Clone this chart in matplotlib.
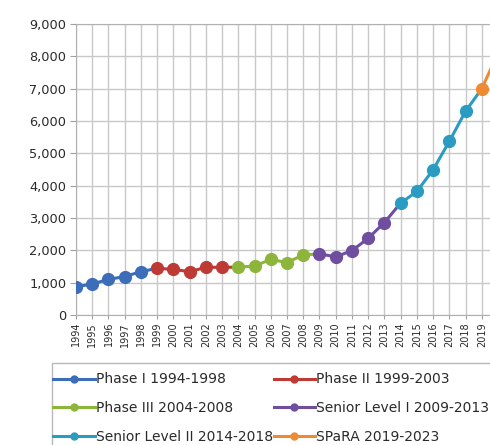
import matplotlib
matplotlib.use("Agg")
import matplotlib.pyplot as plt
from matplotlib.lines import Line2D
from matplotlib.patches import Rectangle
from matplotlib.ticker import FuncFormatter, MultipleLocator

# values
years = list(range(1994, 2021))
values = [870, 960, 1100, 1190, 1340,
          1445, 1410, 1340, 1475, 1475,
          1480, 1515, 1720, 1620, 1860,
          1890, 1800, 1990, 2370, 2860,
          3460, 3820, 4490, 5370, 6300,
          7000, 8100]

phase_names = ["Phase I 1994-1998", "Phase II 1999-2003", "Phase III 2004-2008",
               "Senior Level I 2009-2013", "Senior Level II 2014-2018", "SPaRA 2019-2023"]
phase_starts = [1994, 1999, 2004, 2009, 2014, 2019]
phase_ends = [1998, 2003, 2008, 2013, 2018, 2023]
phase_colors = ["#3b6db8", "#be3a34", "#8db53c", "#6f4ea0", "#2a9cc2", "#ee8a32"]

plt.rcParams["font.family"] = ["DejaVu Sans"]

fig = plt.figure(figsize=(4.9, 4.45), dpi=100)
ax = fig.add_axes([76 / 490, 130 / 445, 422 / 490, 291 / 445])

for start, end, color in zip(phase_starts, phase_ends, phase_colors):
    i0 = years.index(start)
    i1 = years.index(end) if end in years else len(years) - 1
    # line runs on to the first point of the next phase
    j1 = min(i1 + 1, len(years) - 1)
    ax.plot(years[i0:j1 + 1], values[i0:j1 + 1], color=color, lw=2.2, zorder=3)
    ax.plot(years[i0:i1 + 1], values[i0:i1 + 1], "o", color=color, ms=8.5, zorder=4)

ax.set_xlim(1994, 2020)
ax.set_ylim(0, 9000)
ax.yaxis.set_major_locator(MultipleLocator(1000))
ax.yaxis.set_major_formatter(FuncFormatter(lambda v, p: f"{int(v):,}"))
ax.set_xticks(years)
ax.set_xticklabels([str(y) for y in years], rotation=90, fontsize=7)
ax.tick_params(axis="y", labelsize=9.3, length=4, width=0.8, pad=3,
               color="#a0a0a0", labelcolor="#2a2a2a")
ax.tick_params(axis="x", length=3, width=0.8, pad=2,
               color="#a0a0a0", labelcolor="#2a2a2a")
ax.grid(True, color="#c8c8c8", lw=1.0)
ax.set_axisbelow(True)
for s in ax.spines.values():
    s.set_color("#b0b0b0")

# legend box, running off the right and bottom like the original
fig.patches.append(Rectangle((52 / 490, -0.05), 0.95, 1 - 363 / 445 + 0.05,
                             transform=fig.transFigure, fill=False,
                             edgecolor="#b8b8b8", lw=1.0))
handles = [Line2D([], [], color=c, lw=2.2, marker="o", ms=5) for c in phase_colors]
# row-wise order in two columns
order = [0, 2, 4, 1, 3, 5]
fig.legend([handles[i] for i in order], [phase_names[i] for i in order],
           loc="upper left", bbox_to_anchor=(52 / 490, 1 - 371 / 445),
           ncol=2, frameon=False, fontsize=10, handlelength=3.0, handletextpad=0.05,
           columnspacing=0.05, labelspacing=1.05, borderpad=0.1, borderaxespad=0,
           labelcolor="#2a2a2a")

fig.savefig("out.png", dpi=100)
